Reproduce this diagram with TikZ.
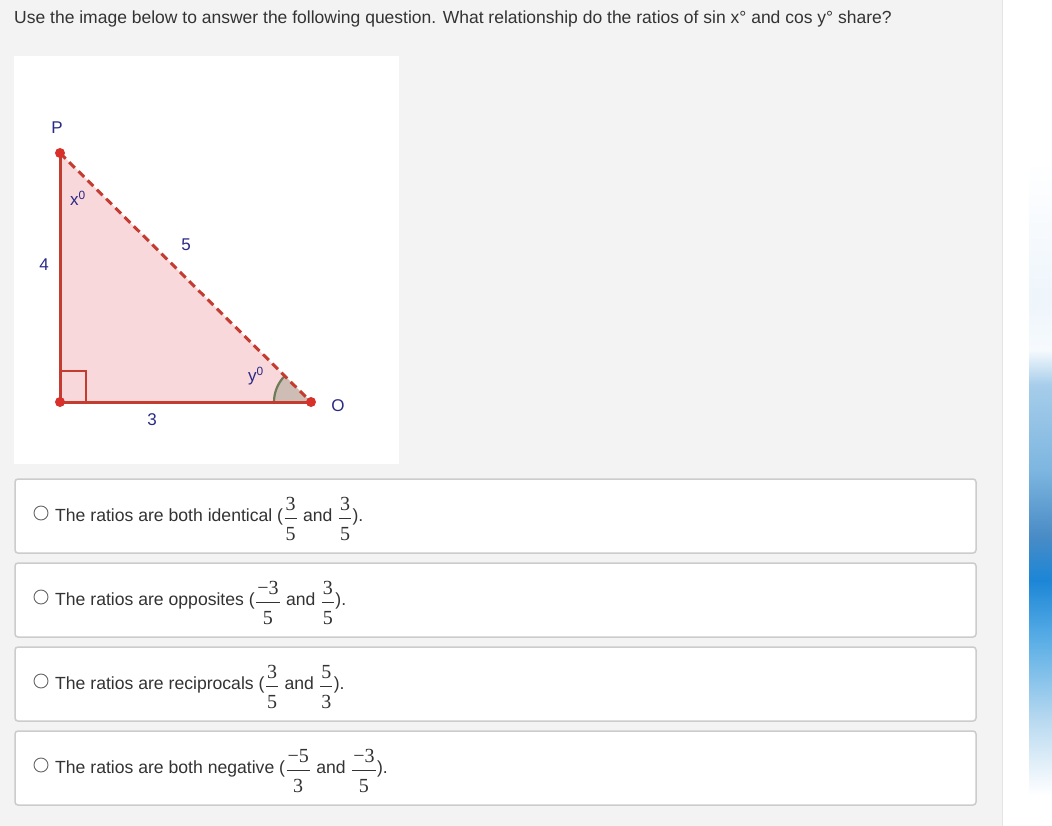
\documentclass[tikz,border=0pt]{standalone}
\usepackage{fontspec}
\setmainfont{Liberation Sans}
\newfontfamily\seriffont{Liberation Serif}
\definecolor{pagebg}{HTML}{F3F3F3}
\definecolor{sepline}{HTML}{E4E4E4}
\definecolor{txt}{HTML}{333333}
\definecolor{boxline}{HTML}{CCCCCC}
\definecolor{radioline}{HTML}{666666}
\definecolor{trired}{HTML}{C43B30}
\definecolor{dotred}{HTML}{D8302B}
\definecolor{pinkfill}{HTML}{F9D8DB}
\definecolor{navy}{HTML}{2A2A86}
\definecolor{sectorfill}{HTML}{CDBDB5}
\definecolor{arcline}{HTML}{6F7B58}
\definecolor{bA}{HTML}{EEF5FB}
\definecolor{bB}{HTML}{F6FAFD}
\definecolor{bC}{HTML}{A6CDEA}
\definecolor{bD}{HTML}{7DB6E0}
\definecolor{bE}{HTML}{4A8CC6}
\definecolor{bF}{HTML}{1C86D6}
\definecolor{bG}{HTML}{5AAEE6}
\definecolor{bH}{HTML}{B8D9F0}
\newcommand\fracfont{\seriffont\fontsize{20}{20}\selectfont}
\newcommand\fr[2]{\kern1.5pt\raisebox{-2pt}{$\vcenter{\offinterlineskip\halign{\hfil\kern1pt\fracfont##\kern1pt\hfil\cr #1\cr\noalign{\kern7.5pt\hrule height 0.8pt\kern8.5pt}#2\cr}}$}\kern1.5pt}
\newcommand\gap{\hspace{5pt}}
\tikzset{
  answerbox/.style={draw=boxline, line width=1.5pt, rounded corners=3pt, fill=white,
    minimum width=961pt, minimum height=74pt, inner sep=0pt},
  radio/.style={circle, draw=radioline, line width=0.9pt, fill=white, minimum size=14pt, inner sep=0pt},
  answer/.style={anchor=base west, text=txt, inner sep=0pt, font=\fontsize{17.6}{21}\selectfont},
  titletext/.style={anchor=base west, text=txt, inner sep=0pt, font=\fontsize{17.5}{21}\selectfont},
  lbl/.style={text=navy, inner sep=0pt, font=\fontsize{17}{20}\selectfont},
  leg/.style={draw=trired, line width=3pt},
  hyp/.style={draw=trired, line width=3pt, dash pattern=on 8pt off 5pt},
  vdot/.style={fill=dotred},
}
\begin{document}
\begin{tikzpicture}[x=1pt,y=-1pt]
\useasboundingbox (0,0) rectangle (1052,826);
\fill[pagebg] (0,0) rectangle (1002,826);
\fill[white] (1002,0) rectangle (1052,826);
\draw[sepline, line width=1pt] (1002,0) -- (1002,826);
% blue strip on the right
\shade[top color=white, bottom color=bA] (1029,160) rectangle (1052,300);
\shade[top color=bA, bottom color=bB] (1029,300) rectangle (1052,350);
\shade[top color=bB, bottom color=bC] (1029,350) rectangle (1052,385);
\shade[top color=bC, bottom color=bD] (1029,385) rectangle (1052,470);
\shade[top color=bD, bottom color=bE] (1029,470) rectangle (1052,535);
\shade[top color=bE, bottom color=bF] (1029,535) rectangle (1052,580);
\shade[top color=bF, bottom color=bG] (1029,580) rectangle (1052,640);
\shade[top color=bG, bottom color=bH] (1029,640) rectangle (1052,720);
\shade[top color=bH, bottom color=white] (1029,720) rectangle (1052,795);

% title
\node[titletext] (title) at (14,24) {Use the image below to answer the following question. What relationship do the ratios of sin x° and cos y° share?};

% image panel
\node[fill=white, minimum width=385pt, minimum height=408pt, inner sep=0pt] (panel) at (206.5,260) {};

% triangle
\coordinate (P) at (60,153);
\coordinate (R) at (60,402);
\coordinate (O) at (311,402);
\fill[pinkfill] (P) -- (R) -- (O) -- cycle;
\fill[sectorfill] (O) -- ++(180:37) arc[start angle=180, end angle=224.8, radius=37] -- cycle;
\draw[arcline, line width=2.2pt] (O) ++(180:37) arc[start angle=180, end angle=224.8, radius=37];
\draw[leg, line width=2.4pt] (R) ++(0,-31) -- ++(26,0) -- ++(0,31);
\draw[leg] (P) -- (R) -- (O);
\draw[hyp] (P) -- (O);
\fill[vdot] (P) circle[radius=5];
\fill[vdot] (R) circle[radius=5];
\fill[vdot] (O) circle[radius=5];

\node[lbl] (lP) at (57,128) {P};
\node[lbl] (lx) at (78,198) {x\textsuperscript{0}};
\node[lbl] (l5) at (186,245) {5};
\node[lbl] (l4) at (44,265) {4};
\node[lbl] (l3) at (152,420) {3};
\node[lbl] (ly) at (256,376) {y\textsuperscript{0}};
\node[lbl] (lO) at (338,406) {O};

% answers
\node[answerbox] (box1) at (495.5,516) {};
\node[answerbox] (box2) at (495.5,600) {};
\node[answerbox] (box3) at (495.5,684) {};
\node[answerbox] (box4) at (495.5,768) {};

\node[radio] (r1) at (41,513) {};
\node[radio] (r2) at (41,597) {};
\node[radio] (r3) at (41,681) {};
\node[radio] (r4) at (41,765) {};

\node[answer] (a1) at (55,521) {The ratios are both identical (\fr{3}{5}\gap and\gap\fr{3}{5}).};
\node[answer] (a2) at (55,605) {The ratios are opposites (\fr{−3}{5}\gap and\gap\fr{3}{5}).};
\node[answer] (a3) at (55,689) {The ratios are reciprocals (\fr{3}{5}\gap and\gap\fr{5}{3}).};
\node[answer] (a4) at (55,773) {The ratios are both negative (\fr{−5}{3}\gap and\gap\fr{−3}{5}).};
\end{tikzpicture}
\end{document}
